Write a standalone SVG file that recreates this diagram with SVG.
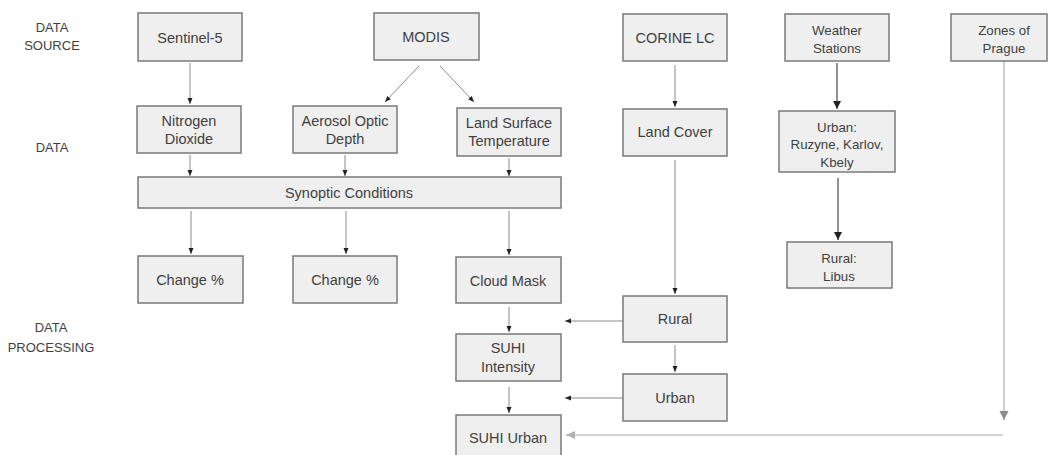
<svg xmlns="http://www.w3.org/2000/svg" width="1048" height="455" viewBox="0 0 1048 455">
<defs>
<style>
.box{fill:#efefef;stroke:#7a7a7a;stroke-width:1.5}
.t{font-family:"Liberation Sans",Arial,sans-serif;font-size:14.5px;fill:#3f3f3f;text-anchor:middle}
.s{font-size:13.3px}
.lbl{font-family:"Liberation Sans",Arial,sans-serif;font-size:13px;fill:#3f3f3f;text-anchor:middle}
.c{fill:none;stroke:#8a8a8a;stroke-width:1}
.cd{fill:none;stroke:#555;stroke-width:1.3}
.cl{fill:none;stroke:#c4c4c4;stroke-width:1.6}
</style>
<marker id="a" markerUnits="userSpaceOnUse" markerWidth="6" markerHeight="6" refX="6" refY="3" orient="auto"><path d="M0,0.5 L6,3 L0,5.5 z" fill="#222"/></marker>
<marker id="ab" markerUnits="userSpaceOnUse" markerWidth="9" markerHeight="9" refX="8" refY="4.5" orient="auto"><path d="M0,0.5 L8,4.5 L0,8.5 z" fill="#222"/></marker>
<marker id="ag" markerUnits="userSpaceOnUse" markerWidth="10" markerHeight="10" refX="9" refY="5" orient="auto"><path d="M0,0.5 L9,5 L0,9.5 z" fill="#8a8a8a"/></marker>
<marker id="ag2" markerUnits="userSpaceOnUse" markerWidth="10" markerHeight="10" refX="9" refY="5" orient="auto"><path d="M0,1 L9,5 L0,9 z" fill="#b0b0b0"/></marker>
</defs>
<rect width="1048" height="455" fill="#fff"/>

<g id="labels">
<text class="lbl" x="52" y="32">DATA</text>
<text class="lbl" x="52" y="50">SOURCE</text>
<text class="lbl" x="52" y="152">DATA</text>
<text class="lbl" x="51" y="332">DATA</text>
<text class="lbl" x="51" y="352">PROCESSING</text>
</g>

<g id="connectors">
<line class="c" x1="190" y1="63" x2="190" y2="104" marker-end="url(#a)"/>
<line class="c" x1="419" y1="66" x2="385" y2="102" marker-end="url(#a)"/>
<line class="c" x1="440" y1="66" x2="474" y2="102" marker-end="url(#a)"/>
<line class="c" x1="190" y1="155" x2="190" y2="176" marker-end="url(#a)"/>
<line class="c" x1="345" y1="155" x2="345" y2="176" marker-end="url(#a)"/>
<line class="c" x1="509" y1="158" x2="509" y2="176" marker-end="url(#a)"/>
<line class="c" x1="675" y1="65" x2="675" y2="107" marker-end="url(#a)"/>
<line class="cd" x1="837" y1="63" x2="837" y2="109" marker-end="url(#ab)"/>
<line class="c" x1="191" y1="211" x2="191" y2="254" marker-end="url(#a)"/>
<line class="c" x1="346" y1="211" x2="346" y2="254" marker-end="url(#a)"/>
<line class="c" x1="509" y1="211" x2="509" y2="255" marker-end="url(#a)"/>
<line class="c" x1="509" y1="307" x2="509" y2="332" marker-end="url(#a)"/>
<line class="c" x1="509" y1="387" x2="509" y2="413" marker-end="url(#a)"/>
<line class="c" x1="675" y1="160" x2="675" y2="294" marker-end="url(#a)"/>
<line class="c" x1="623" y1="321" x2="565" y2="321" marker-end="url(#a)"/>
<line class="c" x1="675" y1="345" x2="675" y2="372" marker-end="url(#a)"/>
<line class="c" x1="623" y1="398" x2="565" y2="398" marker-end="url(#a)"/>
<line class="cd" x1="838" y1="178" x2="838" y2="240" marker-end="url(#ab)"/>
<line class="cl" x1="1004" y1="61" x2="1004" y2="420" marker-end="url(#ag)"/>
<line class="cl" x1="1003" y1="435" x2="566" y2="435" marker-end="url(#ag2)"/>
</g>

<g id="sentinel5"><rect class="box" x="138" y="13" width="104" height="48"/><text class="t" x="190" y="43">Sentinel-5</text></g>
<g id="modis"><rect class="box" x="374" y="13" width="105" height="47"/><text class="t" x="426" y="42">MODIS</text></g>
<g id="corine"><rect class="box" x="623" y="14" width="104" height="47"/><text class="t" x="675" y="43">CORINE LC</text></g>
<g id="weather"><rect class="box" x="785" y="14" width="104" height="47"/><text class="t s" x="837" y="35">Weather</text><text class="t s" x="837" y="53">Stations</text></g>
<g id="zones"><rect class="box" x="951" y="14" width="96" height="47"/><text class="t s" x="1004" y="35">Zones of</text><text class="t s" x="1004" y="53">Prague</text></g>

<g id="no2"><rect class="box" x="137" y="106" width="104" height="47"/><text class="t" x="189" y="126">Nitrogen</text><text class="t" x="189" y="144">Dioxide</text></g>
<g id="aod"><rect class="box" x="293" y="106" width="104" height="47"/><text class="t" x="345" y="126">Aerosol Optic</text><text class="t" x="345" y="144">Depth</text></g>
<g id="lst"><rect class="box" x="457" y="108" width="104" height="48"/><text class="t" x="509" y="128">Land Surface</text><text class="t" x="509" y="146">Temperature</text></g>
<g id="landcover"><rect class="box" x="623" y="109" width="104" height="47"/><text class="t" x="675" y="137">Land Cover</text></g>
<g id="urbanstations"><rect class="box" x="779" y="111" width="116" height="61"/><text class="t s" x="837" y="132">Urban:</text><text class="t s" x="837" y="149">Ruzyne, Karlov,</text><text class="t s" x="837" y="167">Kbely</text></g>

<g id="synoptic"><rect class="box" x="138" y="177" width="423" height="31"/><text class="t" x="349" y="198">Synoptic Conditions</text></g>

<g id="change1"><rect class="box" x="138" y="256" width="105" height="47"/><text class="t" x="190" y="285">Change %</text></g>
<g id="change2"><rect class="box" x="293" y="256" width="104" height="47"/><text class="t" x="345" y="285">Change %</text></g>
<g id="cloudmask"><rect class="box" x="456" y="257" width="105" height="46"/><text class="t" x="508" y="286">Cloud Mask</text></g>
<g id="ruralstation"><rect class="box" x="787" y="242" width="105" height="46"/><text class="t s" x="839" y="263">Rural:</text><text class="t s" x="839" y="281">Libus</text></g>
<g id="rural"><rect class="box" x="623" y="296" width="104" height="46"/><text class="t" x="675" y="324">Rural</text></g>
<g id="suhiintensity"><rect class="box" x="456" y="334" width="105" height="47"/><text class="t" x="508" y="353">SUHI</text><text class="t" x="508" y="372">Intensity</text></g>
<g id="urban"><rect class="box" x="623" y="374" width="104" height="47"/><text class="t" x="675" y="403">Urban</text></g>
<g id="suhiurban"><rect class="box" x="456" y="415" width="105" height="47"/><text class="t" x="508" y="443">SUHI Urban</text></g>
</svg>
